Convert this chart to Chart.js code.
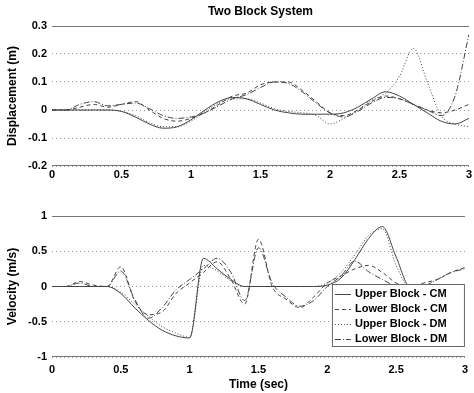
<!DOCTYPE html>
<html>
<head>
<meta charset="utf-8">
<script src="https://cdn.jsdelivr.net/npm/chart.js@4"></script>
<style>
  body { margin: 0; background: #fff; width: 474px; height: 393px; overflow: hidden; }
  canvas { position: absolute; left: 0; }
</style>
</head>
<body>
<canvas id="dispChart" width="474" height="190" style="top:0"></canvas>
<canvas id="velChart" width="474" height="203" style="top:190px"></canvas>
<script>
// time samples (sec)
const time = [0, 0.1, 0.2, 0.3, 0.4, 0.5, 0.6, 0.7, 0.8, 0.9, 1.0, 1.1, 1.2, 1.3, 1.4, 1.5,
              1.6, 1.7, 1.8, 1.9, 2.0, 2.1, 2.2, 2.3, 2.4, 2.5, 2.6, 2.7, 2.8, 2.9, 3.0];

const seriesNames = ['Upper Block - CM', 'Lower Block - CM', 'Upper Block - DM', 'Lower Block - DM'];

// displacement (m)
const dispUpperCM = [0, 0, 0, 0, 0, -0.005, -0.025, -0.05, -0.065, -0.06, -0.035, 0, 0.03, 0.045, 0.04, 0.02,
                     0, -0.01, -0.015, -0.015, -0.015, -0.01, 0.01, 0.04, 0.065, 0.05, 0.02, -0.01, -0.04, -0.05, -0.03];
const dispLowerCM = [0, 0, 0.01, 0.02, 0.01, 0.02, 0.03, 0, -0.03, -0.04, -0.03, -0.01, 0.02, 0.05, 0.06, 0.09,
                     0.1, 0.1, 0.07, 0.03, -0.01, -0.02, 0, 0.03, 0.05, 0.04, 0.02, 0, -0.01, 0, 0.02];
const dispUpperDM = [0, 0, 0, 0, 0, -0.005, -0.02, -0.045, -0.06, -0.06, -0.04, -0.005, 0.025, 0.04, 0.04, 0.025,
                     0.005, -0.005, -0.01, -0.02, -0.05, -0.03, 0, 0.035, 0.06, 0.12, 0.22, 0.1, -0.02, -0.05, -0.06];
const dispLowerDM = [0, 0, 0.02, 0.03, 0.015, 0.02, 0.025, 0.005, -0.02, -0.03, -0.025, -0.01, 0.015, 0.04, 0.055, 0.08,
                     0.1, 0.095, 0.065, 0.025, -0.01, -0.025, -0.005, 0.025, 0.045, 0.04, 0.02, 0, -0.02, 0.05, 0.27];

// velocity (m/s)
const velUpperCM = [0, 0, 0, 0, 0, -0.1, -0.3, -0.48, -0.62, -0.7, -0.73, 0.4, 0.25, 0.1, 0, 0,
                    0, 0, 0, 0, 0.02, 0.12, 0.38, 0.68, 0.85, 0.42, 0, 0, 0, 0, 0];
const velLowerCM = [0, 0, 0.07, 0.02, 0, 0.28, -0.2, -0.4, -0.36, -0.1, 0.05, 0.2, 0.35, 0.1, -0.25, 0.67,
                    0, -0.18, -0.3, -0.15, 0.05, 0.15, 0.25, 0.3, 0.2, 0.05, 0, 0.05, 0.1, 0.2, 0.27];
const velUpperDM = [0, 0, 0, 0, 0, -0.08, -0.25, -0.42, -0.57, -0.66, -0.72, 0.3, 0.22, 0.08, 0, 0,
                    0, 0, 0, 0, 0.05, 0.2, 0.45, 0.72, 0.82, 0.3, 0, 0, 0, 0, 0];
const velLowerDM = [0, 0, 0.05, 0, 0, 0.22, -0.18, -0.45, -0.3, -0.05, 0.1, 0.25, 0.4, 0.2, -0.2, 0.55,
                    0.05, -0.15, -0.28, -0.2, 0, 0.15, 0.36, 0.21, 0.1, 0, -0.05, 0, 0.1, 0.2, 0.25];

// tick labels
const timeTicks = [0, 0.5, 1, 1.5, 2, 2.5, 3];
const timeTickLabels = ['0', '0.5', '1', '1.5', '2', '2.5', '3'];
const dispTicks = [0.3, 0.2, 0.1, 0, -0.1, -0.2];
const dispTickLabels = ['0.3', '0.2', '0.1', '0', '-0.1', '-0.2'];
const velTicks = [1, 0.5, 0, -0.5, -1];
const velTickLabels = ['1', '0.5', '0', '-0.5', '-1'];

const FONT = "'Liberation Sans', Arial, Helvetica, sans-serif";
Chart.defaults.font.family = FONT;
Chart.defaults.color = '#000';

const lineColor = '#444';
const dashes = [[], [4, 3], [1, 2], [6, 2, 1, 2]];

function makeDatasets(list) {
    return list.map((vals, i) => ({
        label: seriesNames[i],
        data: time.map((t, k) => ({ x: t, y: vals[k] })),
        borderColor: lineColor,
        borderWidth: 1,
        borderDash: dashes[i],
        pointRadius: 0,
        fill: false,
        cubicInterpolationMode: 'monotone'
    }));
}

// solid frame lines top and bottom of the plot area
const framePlugin = {
    id: 'frame',
    afterDatasetsDraw(chart) {
        const { ctx, chartArea: a } = chart;
        ctx.save();
        ctx.strokeStyle = '#777';
        ctx.lineWidth = 1;
        ctx.beginPath();
        ctx.moveTo(a.left, a.top + 0.5); ctx.lineTo(a.right, a.top + 0.5);
        ctx.moveTo(a.left, a.bottom - 0.5); ctx.lineTo(a.right, a.bottom - 0.5);
        ctx.stroke();
        ctx.restore();
    }
};

// legend box drawn inside the lower right of the velocity plot
const boxLegend = {
    id: 'boxLegend',
    afterDraw(chart) {
        const { ctx, chartArea: a } = chart;
        const w = 133, h = 63;
        const x0 = a.right - w, y0 = a.bottom - 73;
        ctx.save();
        ctx.fillStyle = '#fff';
        ctx.fillRect(x0, y0, w, h);
        ctx.strokeStyle = '#666';
        ctx.lineWidth = 1;
        ctx.strokeRect(x0 + 0.5, y0 + 0.5, w - 1, h - 1);
        ctx.font = 'bold 11px ' + FONT;
        ctx.textBaseline = 'middle';
        chart.data.datasets.forEach((ds, i) => {
            const y = y0 + 10 + i * 15;
            ctx.strokeStyle = lineColor;
            ctx.setLineDash(ds.borderDash);
            ctx.beginPath();
            ctx.moveTo(x0 + 3, y + 0.5);
            ctx.lineTo(x0 + 19, y + 0.5);
            ctx.stroke();
            ctx.setLineDash([]);
            ctx.fillStyle = '#000';
            ctx.fillText(ds.label, x0 + 23, y);
        });
        ctx.restore();
    }
};

function makeOptions(cfg) {
    return {
        responsive: false,
        animation: false,
        layout: { padding: { left: 0, right: 4, top: cfg.padTop, bottom: 0 } },
        plugins: {
            legend: { display: false },
            tooltip: { enabled: false },
            title: cfg.title ? {
                display: true,
                text: cfg.title,
                fullSize: false,
                font: { size: 12, weight: 'bold' },
                color: '#000',
                padding: { top: 4, bottom: 7.6 }
            } : { display: false }
        },
        scales: {
            x: {
                type: 'linear',
                min: 0, max: 3,
                afterFit: s => { s.height = cfg.xHeight; },
                afterBuildTicks: s => { s.ticks = timeTicks.map(v => ({ value: v })); },
                grid: { display: false, drawTicks: false },
                border: { display: false },
                ticks: {
                    padding: cfg.xPad,
                    maxRotation: 0,
                    font: { size: 11, weight: 'bold' },
                    color: '#000',
                    callback: v => timeTickLabels[timeTicks.indexOf(v)]
                },
                title: cfg.xTitle ? {
                    display: true,
                    text: cfg.xTitle,
                    font: { size: 12, weight: 'bold' },
                    color: '#000',
                    padding: { top: 0, bottom: 1 }
                } : { display: false }
            },
            y: {
                min: cfg.yMin, max: cfg.yMax,
                afterFit: s => { s.width = 52; },
                afterBuildTicks: s => { s.ticks = cfg.yTicks.map(v => ({ value: v })); },
                grid: { color: '#999', drawTicks: false, lineWidth: 1 },
                border: { display: false, dash: [1, 3] },
                ticks: {
                    padding: 5,
                    font: { size: 11, weight: 'bold' },
                    color: '#000',
                    callback: v => cfg.yLabels[cfg.yTicks.indexOf(v)]
                },
                title: {
                    display: true,
                    text: cfg.yTitle,
                    font: { size: 12, weight: 'bold' },
                    color: '#000',
                    padding: { top: 5, bottom: 0 }
                }
            }
        }
    };
}

new Chart(document.getElementById('dispChart'), {
    type: 'line',
    data: { datasets: makeDatasets([dispUpperCM, dispLowerCM, dispUpperDM, dispLowerDM]) },
    options: makeOptions({
        title: 'Two Block System', padTop: 0, xHeight: 24, xPad: 2,
        yMin: -0.2, yMax: 0.3, yTicks: dispTicks, yLabels: dispTickLabels,
        yTitle: 'Displacement (m)'
    }),
    plugins: [framePlugin]
});

new Chart(document.getElementById('velChart'), {
    type: 'line',
    data: { datasets: makeDatasets([velUpperCM, velLowerCM, velUpperDM, velLowerDM]) },
    options: makeOptions({
        padTop: 26, xHeight: 36, xPad: 6, xTitle: 'Time (sec)',
        yMin: -1, yMax: 1, yTicks: velTicks, yLabels: velTickLabels,
        yTitle: 'Velocity (m/s)'
    }),
    plugins: [framePlugin, boxLegend]
});
</script>
</body>
</html>
